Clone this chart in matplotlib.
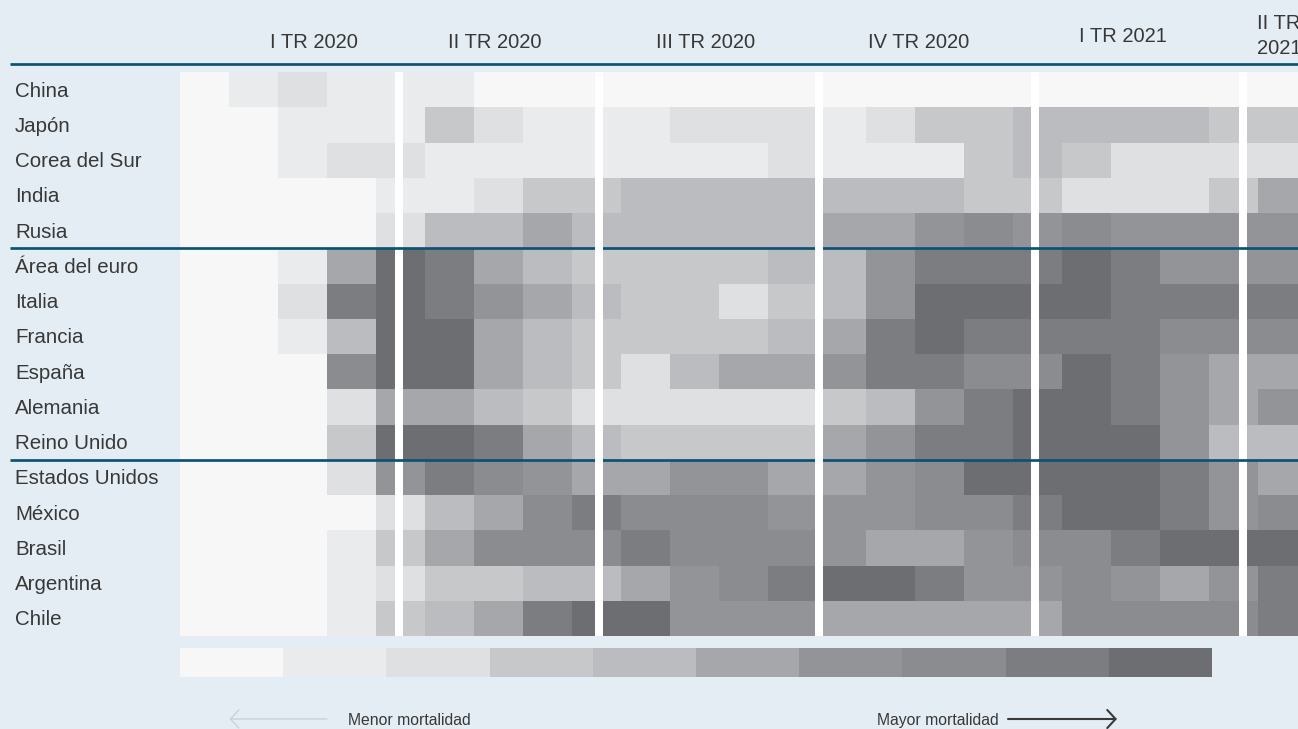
import numpy as np
import matplotlib
matplotlib.use("Agg")
import matplotlib.pyplot as plt
import matplotlib.transforms as mtransforms
from matplotlib.colors import ListedColormap, BoundaryNorm
from matplotlib.lines import Line2D
from matplotlib.patches import FancyArrowPatch

# ---------------- data (mortality level 1..10 per period) ----------------
countries = ["China", "Japón", "Corea del Sur", "India", "Rusia",
             "Área del euro", "Italia", "Francia", "España", "Alemania", "Reino Unido",
             "Estados Unidos", "México", "Brasil", "Argentina", "Chile"]

quarter_labels = ["I TR 2020", "II TR 2020", "III TR 2020", "IV TR 2020", "I TR 2021", "II TR\n2021"]

legend_levels = [1, 2, 3, 4, 5, 6, 7, 8, 9, 10]
legend_left = "Menor mortalidad"
legend_right = "Mayor mortalidad"

china = [1, 1, 2, 2, 3, 3, 2, 2, 2, 2,  2, 2, 1, 1, 1, 1, 1, 1, 1, 1,
         1, 1, 1, 1, 1, 1, 1, 1, 1, 1,  1, 1, 1, 1, 1, 1, 1, 1, 1, 1,  1, 1, 1, 1, 1, 1]
japon = [1, 1, 1, 1, 2, 2, 2, 2, 2, 2,  4, 4, 3, 3, 2, 2, 2, 2, 2, 2,
         3, 3, 3, 3, 3, 3, 2, 2, 3, 3,  4, 4, 4, 4, 5, 5, 5, 5, 5, 5,  5, 5, 4, 4, 4, 4]
corea = [1, 1, 1, 1, 2, 2, 3, 3, 3, 3,  2, 2, 2, 2, 2, 2, 2, 2, 2, 2,
         2, 2, 2, 2, 3, 3, 2, 2, 2, 2,  2, 2, 4, 4, 5, 5, 4, 4, 3, 3,  3, 3, 3, 3, 3, 3]
india = [1, 1, 1, 1, 1, 1, 1, 1, 2, 2,  2, 2, 3, 3, 4, 4, 4, 4, 5, 5,
         5, 5, 5, 5, 5, 5, 5, 5, 5, 5,  5, 5, 4, 4, 4, 4, 3, 3, 3, 3,  3, 3, 4, 4, 6, 6]
rusia = [1, 1, 1, 1, 1, 1, 1, 1, 3, 3,  5, 5, 5, 5, 6, 6, 5, 5, 5, 5,
         5, 5, 5, 5, 5, 5, 6, 6, 6, 6,  7, 7, 8, 8, 7, 7, 8, 8, 7, 7,  7, 7, 7, 7, 7, 7]
area_euro = [1, 1, 1, 1, 2, 2, 6, 6, 10, 10,  9, 9, 6, 6, 5, 5, 4, 4, 4, 4,
             4, 4, 4, 4, 5, 5, 5, 5, 7, 7,  9, 9, 9, 9, 9, 9, 10, 10, 9, 9,  7, 7, 7, 7, 7, 7]
italia = [1, 1, 1, 1, 3, 3, 9, 9, 10, 10,  9, 9, 7, 7, 6, 6, 5, 5, 4, 4,
          4, 4, 3, 3, 4, 4, 5, 5, 7, 7,  10, 10, 10, 10, 10, 10, 10, 10, 9, 9,  9, 9, 9, 9, 9, 9]
francia = [1, 1, 1, 1, 2, 2, 5, 5, 10, 10,  10, 10, 6, 6, 5, 5, 4, 4, 4, 4,
           4, 4, 4, 4, 5, 5, 6, 6, 9, 9,  10, 10, 9, 9, 9, 9, 9, 9, 9, 9,  8, 8, 8, 8, 8, 8]
espana = [1, 1, 1, 1, 1, 1, 8, 8, 10, 10,  10, 10, 6, 6, 5, 5, 4, 4, 3, 3,
          5, 5, 6, 6, 6, 6, 7, 7, 9, 9,  9, 9, 8, 8, 8, 8, 10, 10, 9, 9,  7, 7, 6, 6, 6, 6]
alemania = [1, 1, 1, 1, 1, 1, 3, 3, 6, 6,  6, 6, 5, 5, 4, 4, 3, 3, 3, 3,
            3, 3, 3, 3, 3, 3, 4, 4, 5, 5,  7, 7, 9, 9, 10, 10, 10, 10, 9, 9,  7, 7, 6, 6, 7, 7]
reino_unido = [1, 1, 1, 1, 1, 1, 4, 4, 10, 10,  10, 10, 9, 9, 6, 6, 5, 5, 4, 4,
               4, 4, 4, 4, 4, 4, 6, 6, 7, 7,  9, 9, 9, 9, 10, 10, 10, 10, 10, 10,  7, 7, 5, 5, 5, 5]
eeuu = [1, 1, 1, 1, 1, 1, 3, 3, 7, 7,  9, 9, 8, 8, 7, 7, 6, 6, 6, 6,
        7, 7, 7, 7, 6, 6, 6, 6, 7, 7,  8, 8, 10, 10, 10, 10, 10, 10, 10, 10,  9, 9, 7, 7, 6, 6]
mexico = [1, 1, 1, 1, 1, 1, 1, 1, 3, 3,  5, 5, 6, 6, 8, 8, 9, 9, 8, 8,
          8, 8, 8, 8, 7, 7, 7, 7, 7, 7,  8, 8, 8, 8, 9, 9, 10, 10, 10, 10,  9, 9, 7, 7, 8, 8]
brasil = [1, 1, 1, 1, 1, 1, 2, 2, 4, 4,  6, 6, 8, 8, 8, 8, 8, 8, 9, 9,
          8, 8, 8, 8, 8, 8, 7, 7, 6, 6,  6, 6, 7, 7, 8, 8, 8, 8, 9, 9,  10, 10, 10, 10, 10, 10]
argentina = [1, 1, 1, 1, 1, 1, 2, 2, 3, 3,  4, 4, 4, 4, 5, 5, 5, 5, 6, 6,
             7, 7, 8, 8, 9, 9, 10, 10, 10, 10,  9, 9, 7, 7, 7, 7, 8, 8, 7, 7,  6, 6, 7, 7, 9, 9]
chile = [1, 1, 1, 1, 1, 1, 2, 2, 4, 4,  5, 5, 6, 6, 9, 9, 10, 10, 10, 10,
         7, 7, 7, 7, 7, 7, 6, 6, 6, 6,  6, 6, 6, 6, 6, 6, 8, 8, 8, 8,  8, 8, 8, 8, 9, 9]

rows = [china, japon, corea, india, rusia, area_euro, italia, francia, espana,
        alemania, reino_unido, eeuu, mexico, brasil, argentina, chile]

# ---------------- style / layout ----------------
BG = "#e4edf3"
BLUE = "#0b5275"
TXT = "#383838"
level_colors = ["#f7f7f7", "#eaebed", "#dfe0e2", "#c7c8ca", "#bbbcbf",
                "#a6a7aa", "#939497", "#8b8c8f", "#7c7d80", "#6d6e72"]
FONT = "Liberation Sans"

W, H = 1298, 729
CELL = 24.5                      # px per period column
X0, Y0, Y1 = 180, 72, 636        # heatmap left / top / bottom (px)
sep_px = [399, 598.5, 819, 1035, 1243]    # quarter separators (px)
sep_on_top = [False, True, True, False, False]
group_breaks = [5, 11]           # blue lines after these rows
header_x = [314, 495, 706, 919, 1122.5, 1257]
header_base = [48, 48, 48, 48, 41.5, 29.3]

cmap = ListedColormap(level_colors)
norm = BoundaryNorm(np.arange(0.5, 11.5, 1), cmap.N)

def fx(px):
    return px / W

def fy(py):
    return 1 - py / H

fig = plt.figure(figsize=(W / 100, H / 100), dpi=100, facecolor=BG)

Z = np.array(rows)
nrows, ncols = Z.shape
ax = fig.add_axes([fx(X0), fy(Y1), 1 - fx(X0), (Y1 - Y0) / H])
ax.set_facecolor("none")
ax.pcolormesh(np.arange(ncols + 1), np.arange(nrows + 1), Z, cmap=cmap, norm=norm,
              edgecolors="none", antialiased=False, zorder=1)
ax.set_xlim(0, (W - X0) / CELL)
ax.set_ylim(nrows, 0)
ax.axis("off")

# quarter separators
for px, top in zip(sep_px, sep_on_top):
    ax.axvline((px - X0) / CELL, color="white", lw=8 * 0.72,
               zorder=5 if top else 2, solid_capstyle="butt")

# group lines (blue) spanning from label area to right edge
blend = mtransforms.blended_transform_factory(fig.transFigure, ax.transData)
for b in group_breaks:
    ax.add_line(Line2D([fx(10), 1.0], [b, b], transform=blend, color=BLUE,
                       lw=2.7 * 0.72, clip_on=False, zorder=3, solid_capstyle="butt"))
# top header line
fig.add_artist(Line2D([fx(10), 1.0], [fy(64.0), fy(64.0)], transform=fig.transFigure,
                      color=BLUE, lw=2.7 * 0.72, solid_capstyle="butt"))

# row labels
for i, name in enumerate(countries):
    fig.text(fx(15), i + 0.5 + 0.2, name, transform=blend, ha="left", va="baseline",
             fontsize=14.8, color=TXT, family=FONT)

# header labels
for lab, x, yb in zip(quarter_labels, header_x, header_base):
    lines = lab.split("\n")
    if len(lines) == 1:
        fig.text(fx(x), fy(yb), lab, ha="center", va="baseline",
                 fontsize=14.5, color=TXT, family=FONT)
    else:
        for j, ln in enumerate(lines):
            fig.text(fx(x), fy(yb + 25 * j), ln, ha="left", va="baseline",
                     fontsize=14.5, color=TXT, family=FONT)

# legend colour bar
lax = fig.add_axes([fx(180), fy(677), fx(1212) - fx(180), 29 / H])
lax.pcolormesh(np.arange(len(legend_levels) + 1), [0, 1], [legend_levels],
               cmap=cmap, norm=norm, edgecolors="none", antialiased=False)
lax.set_xlim(0, len(legend_levels))
lax.set_ylim(0, 1)
lax.axis("off")

# arrows + captions
fig.add_artist(FancyArrowPatch(posA=(fx(327), fy(719)), posB=(fx(229.5), fy(719)),
                               transform=fig.transFigure,
                               arrowstyle="->,head_length=0.6,head_width=0.65",
                               mutation_scale=10, color="#cdd1d5", lw=1.0,
                               shrinkA=0, shrinkB=0))
fig.add_artist(FancyArrowPatch(posA=(fx(1008), fy(719)), posB=(fx(1117), fy(719)),
                               transform=fig.transFigure,
                               arrowstyle="->,head_length=0.6,head_width=0.65",
                               mutation_scale=10, color="#3a3a3a", lw=1.5,
                               shrinkA=0, shrinkB=0))
fig.text(fx(348), fy(724.7), legend_left, ha="left", va="baseline",
         fontsize=11.3, color=TXT, family=FONT)
fig.text(fx(999), fy(724.7), legend_right, ha="right", va="baseline",
         fontsize=11.3, color=TXT, family=FONT)

fig.savefig("out.png", dpi=100, facecolor=BG)
